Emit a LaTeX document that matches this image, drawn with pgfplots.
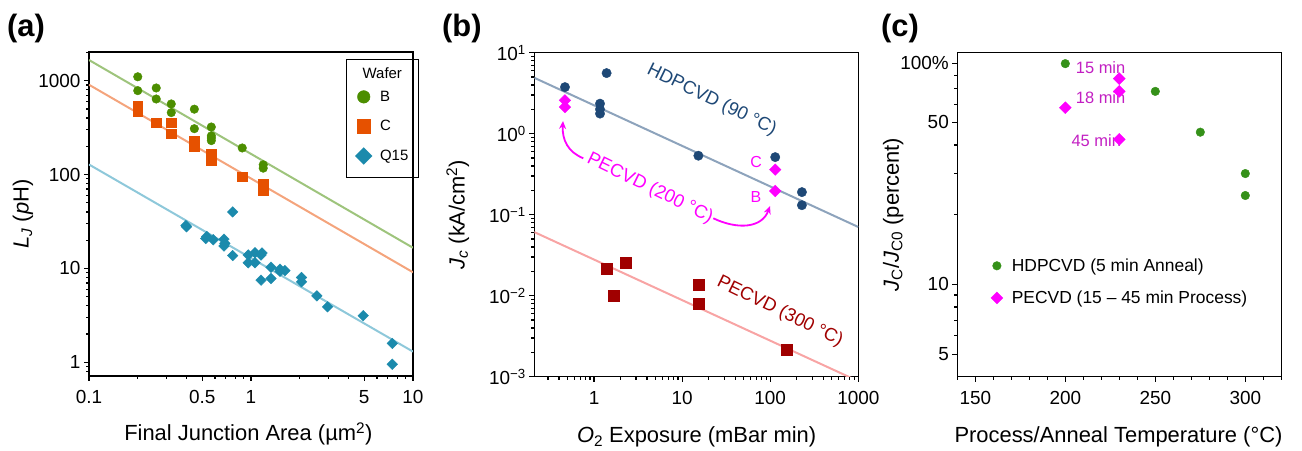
\documentclass[border=0pt]{standalone}
\usepackage{fontspec}
\setmainfont{Liberation Sans}
\usepackage{pgfplots}
\pgfplotsset{compat=1.18}
\usetikzlibrary{arrows.meta}
\definecolor{cB}{RGB}{76,142,0}
\definecolor{cC}{RGB}{230,81,0}
\definecolor{cQ}{RGB}{27,138,172}
\definecolor{cBl}{RGB}{158,196,124}
\definecolor{cCl}{RGB}{244,164,124}
\definecolor{cQl}{RGB}{142,200,218}
\definecolor{cNavy}{RGB}{30,72,118}
\definecolor{cNavyl}{RGB}{141,163,188}
\definecolor{cMag}{RGB}{255,0,255}
\definecolor{cRed}{RGB}{160,0,0}
\definecolor{cRedl}{RGB}{248,164,164}
\definecolor{cG}{RGB}{53,145,25}
\definecolor{cLab}{RGB}{194,31,194}
\pgfplotsset{
 myax/.style={
  scale only axis, width=324bp, height=324bp, anchor=south west,
  axis line style={line width=1.5bp},
  tick style={line width=1.2bp, black},
  major tick length=5bp, minor tick length=3bp,
  tick align=outside, tick pos=left,
  tick label style={font=\fontsize{19}{19}\selectfont},
  xticklabel style={yshift=-6bp},
  label style={font=\fontsize{22}{22}\selectfont},
 }
}
\begin{document}
\begin{tikzpicture}
\useasboundingbox (0,0) rectangle (1302bp,451bp);
% ---------------- (a)
\begin{axis}[myax, at={(89bp,75bp)},
 xmode=log, ymode=log, xmin=0.1, xmax=10, ymin=0.715, ymax=2020,
 xtick={0.1,0.5,1,5,10}, xticklabels={0.1,0.5,1,5,10},
 minor xtick={0.2,0.3,0.4,0.6,0.7,0.8,0.9,2,3,4,6,7,8,9},
 ytick={1,10,100,1000}, yticklabels={1,10,100,1000},
 minor ytick={0.8,0.9,2,3,4,5,6,7,8,9,20,30,40,50,60,70,80,90,200,300,400,500,600,700,800,900,2000},
 xlabel={Final Junction Area (µm\textsuperscript{2})},
 ylabel={\textit{L}\textsubscript{\textit{J}} (\textit{p}H)},
 xlabel style={at={(axis description cs:0.492,-0.2006)}, anchor=base},
 ylabel style={at={(axis description cs:-0.204,0.5)}, anchor=center},
 legend style={at={(0.7954,0.905)}, anchor=north west, draw=none, fill=none,
   inner xsep=8.5bp, inner ysep=6bp, row sep=13.5bp, column sep=6bp,
   font=\fontsize{15}{15}\selectfont},
 legend cell align=left,
]
\addplot[cBl, line width=2bp, forget plot] coordinates {(0.1,1660)(10,16.6)};
\addplot[cCl, line width=2bp, forget plot] coordinates {(0.1,905)(10,9.1)};
\addplot[cQl, line width=2bp, forget plot] coordinates {(0.1,128)(10,1.3)};
\addplot[only marks, mark=*, mark size=4.3bp, color=cB, forget plot] coordinates {
(0.2,1100)(0.2,783)(0.26,836)(0.26,638)(0.322,565)(0.322,457)(0.447,497)(0.447,308)
(0.569,321)(0.569,258)(0.569,245)(0.569,230)(0.883,192)(1.19,127)(1.19,117)};
\addplot[only marks, mark=square*, mark size=4.7bp, color=cC, forget plot] coordinates {
(0.2,545)(0.2,475)(0.26,356)(0.322,357)(0.322,272)(0.447,230)(0.447,201)
(0.569,167)(0.569,155)(0.569,140)(0.883,94.6)(1.19,79.4)(1.19,68)};
\addplot[only marks, mark=square*, mark size=3.75bp, mark options={rotate=45}, color=cQ, forget plot] coordinates {
(0.397,28.6)(0.40,27.8)(0.533,21.9)(0.525,20.8)(0.585,20.2)(0.681,20.5)(0.681,17.3)(0.69,18.5)
(0.771,40)(0.771,13.7)(0.962,13.9)(0.962,11.5)(1.059,14.7)(1.059,11.5)(1.153,13.9)(1.17,14.6)
(1.153,7.5)(1.329,10.3)(1.329,7.8)(1.51,9.8)(1.62,9.5)(1.51,9.3)(2.05,8.0)(2.05,7.2)
(2.55,5.1)(2.97,3.9)(4.93,3.14)(7.45,1.59)(7.45,0.953)};
\addlegendimage{only marks, mark=*, mark size=6.3bp, color=cB, line width=0.4bp}\addlegendentry{B}
\addlegendimage{only marks, mark=square*, mark size=6.6bp, color=cC, line width=0.4bp}\addlegendentry{C}
\addlegendimage{only marks, mark=square*, mark size=5.9bp, mark options={rotate=45}, color=cQ, line width=0.4bp}\addlegendentry{Q15}
\end{axis}
\draw[line width=1.5bp] (346.7bp,391.7bp) rectangle (418.3bp,273.3bp);
\node[font=\fontsize{15}{15}\selectfont, anchor=base] at (382.3bp,372.5bp) {Wafer};
% ---------------- (b)
\begin{axis}[myax, at={(534.3bp,74.3bp)},
 xmode=log, ymode=log, xmin=0.21, xmax=1000, ymin=0.001, ymax=10,
 xtick={1,10,100,1000}, xticklabels={1,10,100,1000},
 minor xtick={0.3,0.4,0.5,0.6,0.7,0.8,0.9,2,3,4,5,6,7,8,9,20,30,40,50,60,70,80,90,200,300,400,500,600,700,800,900},
 ytick={0.001,0.01,0.1,1,10},
 yticklabels={10\textsuperscript{−3},10\textsuperscript{−2},10\textsuperscript{−1},10\textsuperscript{0},10\textsuperscript{1}},
 minor ytick={0.002,0.003,0.004,0.005,0.006,0.007,0.008,0.009,0.02,0.03,0.04,0.05,0.06,0.07,0.08,0.09,0.2,0.3,0.4,0.5,0.6,0.7,0.8,0.9,2,3,4,5,6,7,8,9},
 xlabel={\textit{O}\textsubscript{2} Exposure (mBar min)},
 ylabel={\textit{J}\textsubscript{\textit{c}} (kA/cm\textsuperscript{2})},
 xlabel style={at={(axis description cs:0.501,-0.203)}, anchor=base},
 ylabel style={at={(axis description cs:-0.236,0.5)}, anchor=center},
]
\addplot[cNavyl, line width=2bp] coordinates {(0.21,4.9)(1000,0.0705)};
\addplot[cRedl, line width=2bp] coordinates {(0.21,0.061)(1000,0.00088)};
\addplot[only marks, mark=*, mark size=4.7bp, color=cNavy] coordinates {
(0.468,3.76)(1.39,5.6)(1.17,2.35)(1.17,1.77)(1.17,2.0)(15.3,0.535)(114,0.514)(229,0.19)(229,0.131)};
\addplot[only marks, mark=square*, mark size=4.1bp, mark options={rotate=45}, color=cMag] coordinates {
(0.468,2.58)(0.468,2.13)(114,0.36)(114,0.196)};
\addplot[only marks, mark=square*, mark size=5.5bp, color=cRed] coordinates {
(1.39,0.0216)(2.31,0.0255)(1.66,0.01)(15.3,0.0137)(15.3,0.008)(155,0.00215)};
\end{axis}
% ---------------- (c)
\begin{axis}[myax, at={(957.3bp,74.3bp)},
 xmin=140, xmax=320, ymode=log, ymin=4, ymax=100,
 xtick={150,200,250,300}, xticklabels={150,200,250,300},
 minor xtick={140,160,170,180,190,210,220,230,240,260,270,280,290,310,320},
 ytick={5,10,50,90}, yticklabels={5,10,50,100\%},
 minor ytick={6,7,8,9,20,30,40,60,70,80},
 xlabel={Process/Anneal Temperature (°C)},
 ylabel={\textit{J}\textsubscript{C}/\textit{J}\textsubscript{C0} (percent)},
 xlabel style={at={(axis description cs:0.4975,-0.203)}, anchor=base},
 ylabel style={at={(axis description cs:-0.198,0.5)}, anchor=center},
 legend style={at={(0.094,0.377)}, anchor=north west, draw=none, fill=none, row sep=14bp, column sep=7bp,
   font=\fontsize{17.5}{17.5}\selectfont},
 legend cell align=left,
]
\node[anchor=base, text=cLab, font=\fontsize{16.5}{16.5}\selectfont] at (axis cs:219.6,81.2) {15 min};
\node[anchor=base, text=cLab, font=\fontsize{16.5}{16.5}\selectfont] at (axis cs:219.6,60.3) {18 min};
\node[anchor=base, text=cLab, font=\fontsize{16.5}{16.5}\selectfont] at (axis cs:217.2,39.2) {45 min};
\addplot[only marks, mark=*, mark size=4.3bp, color=cG] coordinates {
(200,89.7)(250,68.1)(275,45.4)(300,30.1)(300,24.2)};
\addlegendentry{HDPCVD (5 min Anneal)}
\addplot[only marks, mark=square*, mark size=4.2bp, mark options={rotate=45}, color=cMag] coordinates {
(200,57.9)(230,77.3)(230,68.1)(230,42.3)};
\addlegendentry{PECVD (15 – 45 min Process)}
\end{axis}
% ---------------- annotations (b)
\node[rotate=-26, text=cNavy, font=\fontsize{18.5}{18.5}\selectfont] at (711.7bp,351bp) {HDPCVD (90 °C)};
\node[rotate=-26, text=cMag, font=\fontsize{18.5}{18.5}\selectfont] at (650bp,262.7bp) {PECVD (200 °C)};
\node[rotate=-26, text=cRed, font=\fontsize{18.5}{18.5}\selectfont] at (780bp,139.3bp) {PECVD (300 °C)};
\node[text=cMag, font=\fontsize{16}{16}\selectfont] at (756bp,289.3bp) {C};
\node[text=cMag, font=\fontsize{16}{16}\selectfont] at (756bp,254.3bp) {B};
\draw[cMag, line width=1.8bp, -{Stealth[length=8bp,width=7bp]}] (583.3bp,292.7bp) .. controls (568bp,299bp) and (562bp,311bp) .. (563bp,330bp);
\draw[cMag, line width=1.8bp, -{Stealth[length=8bp,width=7bp]}] (713.3bp,232.7bp) .. controls (738bp,221bp) and (762bp,223bp) .. (770bp,245bp);
% ---------------- panel labels
\node[anchor=base west, inner sep=0pt, font=\bfseries\fontsize{31}{31}\selectfont] at (7bp,414.5bp) {(a)};
\node[anchor=base west, inner sep=0pt, font=\bfseries\fontsize{31}{31}\selectfont] at (442bp,414.5bp) {(b)};
\node[anchor=base west, inner sep=0pt, font=\bfseries\fontsize{31}{31}\selectfont] at (881bp,414.5bp) {(c)};
\end{tikzpicture}
\end{document}
